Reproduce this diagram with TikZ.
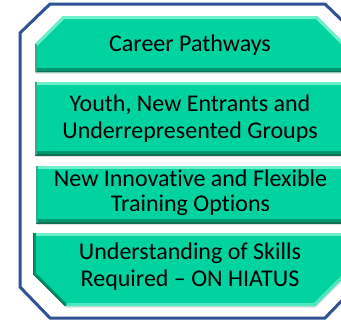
\documentclass[tikz,border=0pt]{standalone}
\usepackage{fontspec}
\setmainfont{Carlito}[Ligatures={NoCommon}]
\definecolor{boxfill}{RGB}{0,210,160}
\definecolor{boxdark}{RGB}{0,150,112}
\definecolor{boxdeep}{RGB}{20,110,85}
\definecolor{boxlight}{RGB}{110,240,205}
\definecolor{framecol}{RGB}{47,82,150}
\definecolor{shadowcol}{RGB}{200,205,205}
\begin{document}
\begin{tikzpicture}[x=1pt,y=-1pt,
  frame/.style={draw=framecol,line width=3pt,line join=miter,fill=white},
  lbl/.style={font=\fontsize{24}{27}\selectfont,align=center,text=black,inner sep=0pt},
  lbltight/.style={lbl,font=\fontsize{24}{25}\selectfont}]
\useasboundingbox (0,0) rectangle (341,322);
\fill[white] (0,0) rectangle (341,322);
% outer frame
\draw[frame] (50,4) -- (325,4) -- (355,33) -- (355,287) -- (325,318) -- (50,318) -- (20,287) -- (20,33) -- cycle;
% box outlines
\def\shapeA{(35,44) -- (63,16) -- (317,16) -- (345,44) -- (345,72) -- (35,72) -- cycle}
\def\shapeB{(35,82) -- (345,82) -- (345,155) -- (35,155) -- cycle}
\def\shapeC{(36,166) -- (345,166) -- (345,223) -- (36,223) -- cycle}
\def\shapeD{(33,233) -- (347,233) -- (347,274) -- (315,306) -- (65,306) -- (33,274) -- cycle}
\foreach \s in {\shapeA,\shapeB,\shapeC,\shapeD}{
  \fill[shadowcol,opacity=0.6,xshift=0.8pt,yshift=-1.5pt] \s;
  \fill[boxfill] \s;
}
% bevels
\begin{scope}
  \clip \shapeA;
  \draw[boxlight,line width=6pt] (35,44) -- (63,16) -- (317,16) -- (345,44);
  \draw[boxdark,line width=8pt] (30,72) -- (350,72);
  \draw[boxdeep,line width=2pt] (30,72) -- (350,72);
  \draw[boxdark!80,line width=4pt] (35,44) -- (35,72);
\end{scope}
\begin{scope}
  \clip \shapeB;
  \draw[boxlight,line width=6pt] (30,82) -- (350,82);
  \draw[boxdark,line width=8pt] (30,155) -- (350,155);
  \draw[boxdeep,line width=2pt] (30,155) -- (350,155);
  \draw[boxdark!80,line width=4pt] (35,82) -- (35,155);
\end{scope}
\begin{scope}
  \clip \shapeC;
  \draw[boxlight,line width=6pt] (30,166) -- (350,166);
  \draw[boxdark,line width=8pt] (30,223) -- (350,223);
  \draw[boxdeep,line width=2pt] (30,223) -- (350,223);
  \draw[boxdark!80,line width=4pt] (36,166) -- (36,223);
\end{scope}
\begin{scope}
  \clip \shapeD;
  \draw[boxlight,line width=6pt] (30,233) -- (350,233);
  \draw[boxlight!70!boxfill,line width=6pt] (65,306) -- (315,306) -- (347,274);
  \draw[boxdark,line width=6pt] (33,233) -- (33,274) -- (65,306);
  \draw[boxdeep,line width=1.5pt] (33,233) -- (33,274) -- (65,306);
\end{scope}
% labels
\node[lbl] (cp) at (190,45) {Career Pathways};
\node[lbl] (yn) at (190,118.5) {Youth, New Entrants and\\Underrepresented Groups};
\node[lbltight] (ni) at (190.5,193) {New Innovative and Flexible\\Training Options};
\node[lbl] (us) at (190,267) {Understanding of Skills\\Required – ON HIATUS};
\end{tikzpicture}
\end{document}
